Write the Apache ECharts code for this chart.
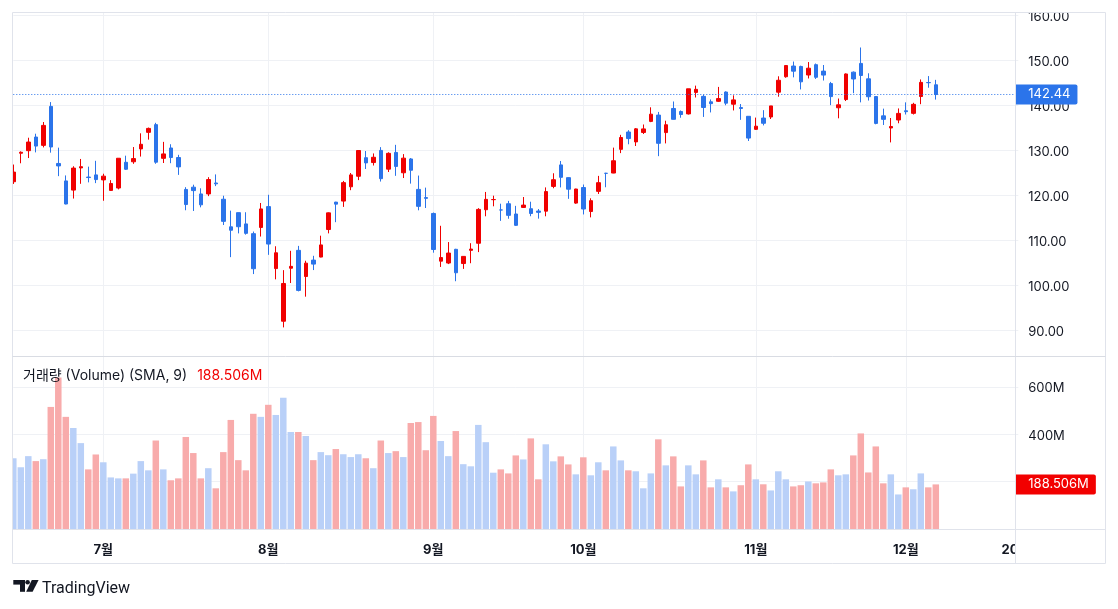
<!DOCTYPE html>
<html><head><meta charset="utf-8">
<script src="https://cdn.jsdelivr.net/npm/echarts@6/dist/echarts.min.js"></script>
<style>html,body{margin:0;padding:0;background:#fff}#c{width:1118px;height:609px}</style>
</head><body><div id="c"></div>
<script>
const dates = ['2024-06-12','2024-06-13','2024-06-14','2024-06-17','2024-06-18','2024-06-20','2024-06-21','2024-06-24','2024-06-25','2024-06-26','2024-06-27','2024-06-28',
'2024-07-01','2024-07-02','2024-07-03','2024-07-05','2024-07-08','2024-07-09','2024-07-10','2024-07-11','2024-07-12','2024-07-15','2024-07-16','2024-07-17','2024-07-18','2024-07-19','2024-07-22','2024-07-23','2024-07-24','2024-07-25','2024-07-26','2024-07-29','2024-07-30','2024-07-31',
'2024-08-01','2024-08-02','2024-08-05','2024-08-06','2024-08-07','2024-08-08','2024-08-09','2024-08-12','2024-08-13','2024-08-14','2024-08-15','2024-08-16','2024-08-19','2024-08-20','2024-08-21','2024-08-22','2024-08-23','2024-08-26','2024-08-27','2024-08-28','2024-08-29','2024-08-30',
'2024-09-03','2024-09-04','2024-09-05','2024-09-06','2024-09-09','2024-09-10','2024-09-11','2024-09-12','2024-09-13','2024-09-16','2024-09-17','2024-09-18','2024-09-19','2024-09-20','2024-09-23','2024-09-24','2024-09-25','2024-09-26','2024-09-27','2024-09-30',
'2024-10-01','2024-10-02','2024-10-03','2024-10-04','2024-10-07','2024-10-08','2024-10-09','2024-10-10','2024-10-11','2024-10-14','2024-10-15','2024-10-16','2024-10-17','2024-10-18','2024-10-21','2024-10-22','2024-10-23','2024-10-24','2024-10-25','2024-10-28','2024-10-29','2024-10-30','2024-10-31',
'2024-11-01','2024-11-04','2024-11-05','2024-11-06','2024-11-07','2024-11-08','2024-11-11','2024-11-12','2024-11-13','2024-11-14','2024-11-15','2024-11-18','2024-11-19','2024-11-20','2024-11-21','2024-11-22','2024-11-25','2024-11-26','2024-11-27','2024-11-29',
'2024-12-02','2024-12-03','2024-12-04','2024-12-05','2024-12-06'];
const futureDates = ['2024-12-09','2024-12-10','2024-12-11','2024-12-12','2024-12-13','2024-12-16','2024-12-17','2024-12-18','2024-12-19','2024-12-20','2025-01-02'];

const open = [123.06,129.39,129.96,132.99,131.14,139.80,127.12,123.24,121.20,126.13,124.10,124.58,
123.47,121.13,121.66,127.38,127.49,130.35,134.03,135.75,128.26,130.56,128.44,121.35,121.85,120.35,120.35,122.78,119.17,113.04,116.19,113.69,111.52,112.90,
117.53,103.76,92.06,103.84,107.81,102.00,105.64,106.32,112.44,118.53,118.76,121.94,124.28,128.40,127.32,130.02,125.86,129.57,125.05,128.12,121.36,119.53,
116.01,105.41,104.99,108.04,104.88,107.81,109.39,116.84,119.08,116.79,118.17,115.89,117.35,117.06,116.55,116.52,122.02,126.80,123.97,118.31,
121.77,116.44,120.92,124.94,124.99,130.26,134.11,131.91,134.01,136.47,137.87,133.98,139.34,138.67,138.13,142.91,142.03,140.82,140.93,143.00,140.29,139.54,137.60,
134.70,137.21,137.45,142.96,146.39,148.77,148.68,146.78,149.07,147.64,144.87,139.50,141.32,147.41,149.35,145.93,141.99,137.70,135.01,136.78,
138.83,138.26,142.00,145.11,144.60];
const high = [126.88,129.80,132.84,133.73,136.33,140.76,130.63,124.46,126.50,128.12,126.41,127.71,
124.84,123.41,128.28,128.85,130.77,133.82,135.10,136.15,131.92,131.39,129.04,121.85,122.40,121.60,124.07,124.69,119.95,116.63,116.20,116.28,111.99,118.34,
120.16,108.72,103.41,107.71,108.80,105.50,106.60,111.07,116.23,118.60,123.24,125.00,130.00,129.88,129.35,130.75,129.60,131.26,129.20,128.33,124.43,121.75,
116.21,113.27,109.65,108.15,106.55,109.40,117.19,120.79,119.96,118.18,118.80,117.70,119.66,118.62,116.99,121.80,124.94,127.67,124.03,121.50,
122.44,119.38,124.36,125.04,130.64,133.48,134.52,135.00,135.78,139.60,138.57,136.62,140.89,138.90,143.71,144.42,142.43,141.35,144.13,143.14,142.26,140.33,137.61,
137.31,138.96,139.91,146.49,148.93,149.77,148.85,149.65,149.33,149.00,145.24,141.55,147.13,147.56,152.89,147.16,142.05,139.30,137.22,139.35,
140.70,140.60,145.79,146.54,145.70];
const low = [122.57,127.16,128.32,129.58,130.69,129.52,124.30,118.04,119.32,122.60,122.92,122.75,
118.83,121.03,121.36,125.68,127.04,128.65,132.42,127.05,127.22,127.18,124.58,116.72,116.56,117.37,119.86,122.09,113.44,106.30,111.58,111.30,102.54,110.88,
106.81,101.37,90.69,100.55,98.69,97.52,103.43,106.26,111.58,114.07,117.47,121.18,123.42,125.89,126.66,123.10,125.22,124.37,123.88,122.64,116.71,117.22,
107.29,104.12,104.76,100.95,103.69,104.95,107.42,115.38,117.60,114.36,114.83,113.22,117.25,115.39,114.86,115.38,121.61,121.80,119.26,118.15,
115.79,115.14,120.34,121.83,124.95,129.42,131.38,131.00,133.66,136.30,128.74,131.58,136.87,137.28,138.00,141.78,137.46,138.46,140.80,140.05,138.90,136.81,132.11,
134.57,135.57,137.00,141.96,146.17,146.26,143.57,146.01,145.90,145.55,140.08,137.15,140.99,142.73,140.70,141.10,135.82,135.67,131.80,136.05,
138.00,138.00,140.29,143.95,141.31];
const close = [125.20,129.61,131.88,130.98,135.58,130.78,126.57,118.11,126.09,126.40,123.99,123.54,
124.30,122.67,128.28,125.83,128.20,131.38,134.91,127.40,129.24,128.44,126.36,117.99,121.09,117.93,123.54,122.59,114.25,112.28,113.06,111.59,103.73,117.02,
109.21,107.27,100.45,104.25,98.91,104.97,104.75,109.02,116.14,118.08,122.86,124.58,130.00,127.25,128.50,123.74,129.37,126.46,128.30,125.61,117.59,119.37,
108.00,106.21,107.21,102.83,106.47,108.10,116.91,119.14,119.10,116.78,115.59,113.37,117.87,116.00,116.26,120.87,123.51,124.04,121.40,121.44,
117.00,118.85,122.85,124.92,127.72,132.89,132.65,134.81,134.80,138.07,131.60,135.72,136.93,138.00,143.71,143.59,139.56,140.41,141.54,140.52,141.25,139.34,132.76,
135.40,136.05,139.91,145.61,148.88,147.63,145.26,148.29,146.27,146.76,141.98,140.15,147.01,145.89,146.67,141.95,136.02,136.92,135.34,138.25,
138.63,140.26,145.14,145.06,142.44];
// volume in millions
const volume = [299,261,308,287,295,516,640,474,427,363,252,315,
282,218,214,214,234,287,248,374,252,206,214,389,321,214,257,172,325,461,291,248,487,474,
525,482,555,410,410,393,291,325,312,338,316,304,316,299,257,374,321,329,304,448,452,333,
478,372,308,414,274,265,440,367,238,252,235,311,294,383,210,358,286,307,273,231,
303,227,282,248,349,290,248,244,172,235,379,269,307,180,269,231,290,176,210,176,159,185,273,
210,189,163,244,210,180,185,201,193,197,252,227,231,311,404,239,349,193,231,146,
176,168,235,176,188.506];

const tickDates = ['2024-07-01','2024-08-01','2024-09-03','2024-10-01','2024-11-01','2024-12-02','2025-01-02'];
const tickLabels = ['7월','8월','9월','10월','11월','12월','2025'];
const priceTicks = [90,100,110,120,130,140,150,160];
const volumeGridTicks = [200,400,600];
const volumeLabelTicks = [400,600];

const FONT = "Inter, 'Noto Sans CJK KR', sans-serif";
const UP = '#f00000', DOWN = '#2b74ea', VUP = '#b9d0f8', VDOWN = '#f8abab';
const GRID = '#eff1f5', FRAME = '#e0e3eb', TEXT = '#131722';

const cats = dates.concat(futureDates);
const labelOf = {}; tickDates.forEach((d, i) => labelOf[d] = tickLabels[i]);
const gridSet = new Set(tickDates.slice(0, 6));
const candle = dates.map((d, i) => [open[i], close[i], low[i], high[i]]);
const volData = volume.map((v, i) => ({ value: v, itemStyle: { color: close[i] >= open[i] ? VUP : VDOWN } }));
const n = dates.length;
const lastClose = close[n - 1], lastVol = volume[n - 1];
const lastColor = close[n - 1] >= open[n - 1] ? UP : DOWN;

const chart = echarts.init(document.getElementById('c'), null, { renderer: 'canvas' });
const xBase = {
  type: 'category', data: cats, boundaryGap: false,
  axisLine: { show: false }, axisTick: { show: false },
  splitLine: { show: true, interval: (i, v) => gridSet.has(v), lineStyle: { color: GRID, width: 1 } }
};
const yLabelRich = { p: { padding: [3, 0, 0, 0], color: TEXT, fontSize: 13, fontFamily: FONT } };
chart.setOption({
  animation: false,
  backgroundColor: '#fff',
  title: {
    left: 23, top: 369, padding: 0,
    text: '{a|거래량 (Volume) (SMA, 9)}{b|' + lastVol.toFixed(3) + 'M}',
    textStyle: { fontWeight: 'normal', rich: {
      a: { color: TEXT, fontSize: 14, fontWeight: 'normal', fontFamily: FONT },
      b: { color: '#f20000', fontSize: 14, fontWeight: 'normal', fontFamily: FONT, padding: [0, 0, 0, 10] }
    } }
  },
  grid: [
    { left: 13.3, top: 13, width: 1005, height: 343 },
    { left: 13.3, top: 357, width: 1005, height: 172 }
  ],
  xAxis: [
    Object.assign({}, xBase, { gridIndex: 0, axisLabel: { show: false } }),
    Object.assign({}, xBase, { gridIndex: 1, axisLabel: {
      show: true, interval: (i, v) => labelOf[v] !== undefined, formatter: v => labelOf[v] || '',
      margin: 15, color: TEXT, fontSize: 13, fontWeight: 'bold', fontFamily: FONT
    } })
  ],
  yAxis: [
    { gridIndex: 0, type: 'value', position: 'right', min: 84.333, max: 160.556,
      axisLine: { show: false }, axisTick: { show: false, customValues: priceTicks },
      axisLabel: { customValues: priceTicks, margin: 10, color: TEXT, fontSize: 13, fontFamily: FONT,
        formatter: v => '{p|' + v.toFixed(2) + '}', rich: yLabelRich },
      splitLine: { show: true, lineStyle: { color: GRID } } },
    { gridIndex: 1, type: 'value', position: 'right', min: 0, max: 727,
      axisLine: { show: false }, axisTick: { show: false, customValues: volumeGridTicks },
      axisLabel: { customValues: volumeLabelTicks, margin: 10, color: TEXT, fontSize: 13, fontFamily: FONT,
        formatter: v => '{p|' + v + 'M}', rich: yLabelRich },
      splitLine: { show: true, lineStyle: { color: GRID } } }
  ],
  series: [
    { type: 'candlestick', xAxisIndex: 0, yAxisIndex: 0, data: candle, barWidth: 4,
      itemStyle: { color: UP, color0: DOWN, borderColor: UP, borderColor0: DOWN, borderWidth: 1 },
      markLine: { silent: true, symbol: ['none', 'none'], animation: false,
        data: [{ yAxis: lastClose }],
        lineStyle: { color: lastColor, type: [1, 2], width: 1, opacity: 1 },
        label: { position: 'end', distance: -3, formatter: () => lastClose.toFixed(2), color: '#fff',
          backgroundColor: lastColor, padding: [3, 7, 3, 13], fontSize: 13, lineHeight: 14, fontFamily: FONT, borderRadius: [0, 2, 2, 0] },
        emphasis: { disabled: true } } },
    { type: 'bar', xAxisIndex: 1, yAxisIndex: 1, data: volData, barWidth: 6.5,
      markLine: { silent: true, symbol: ['none', 'none'], animation: false,
        data: [{ yAxis: lastVol }],
        lineStyle: { color: 'rgba(0,0,0,0)', width: 1, type: 'solid' },
        label: { show: true, position: 'end', distance: -3, formatter: () => lastVol.toFixed(3) + 'M', color: '#fff',
          backgroundColor: '#f20000', padding: [3, 7, 3, 13], fontSize: 13, lineHeight: 14, fontFamily: FONT, borderRadius: [0, 2, 2, 0] },
        emphasis: { disabled: true } } }
  ],
  graphic: [
    { type: 'rect', z: 100, shape: { x: 0, y: 0, width: 1118, height: 12 }, style: { fill: '#fff' }, silent: true },
    { type: 'rect', z: 100, shape: { x: 0, y: 0, width: 12.5, height: 564 }, style: { fill: '#fff' }, silent: true },
    { type: 'rect', z: 100, shape: { x: 1016, y: 530.5, width: 102, height: 33 }, style: { fill: '#fff' }, silent: true },
    { type: 'rect', z: 110, shape: { x: 12.5, y: 12.5, width: 1093, height: 551 }, style: { fill: 'none', stroke: FRAME, lineWidth: 1 }, silent: true },
    { type: 'line', z: 110, shape: { x1: 1015.5, y1: 12.5, x2: 1015.5, y2: 563.5 }, style: { stroke: FRAME, lineWidth: 1 }, silent: true },
    { type: 'line', z: 110, shape: { x1: 12.5, y1: 356.5, x2: 1105.5, y2: 356.5 }, style: { stroke: '#d9dce3', lineWidth: 1 }, silent: true },
    { type: 'line', z: 110, shape: { x1: 12.5, y1: 529.5, x2: 1105.5, y2: 529.5 }, style: { stroke: FRAME, lineWidth: 1 }, silent: true },
    { type: 'group', z: 110, silent: true, children: [
      { type: 'rect', shape: { x: 13.3, y: 580, width: 11.7, height: 4.6 }, style: { fill: TEXT } },
      { type: 'rect', shape: { x: 20, y: 580, width: 5, height: 11.8 }, style: { fill: TEXT } },
      { type: 'circle', shape: { cx: 27.6, cy: 582.3, r: 2.3 }, style: { fill: TEXT } },
      { type: 'polygon', shape: { points: [[31.8, 580], [38.6, 580], [32.6, 591.8], [26.2, 591.8]] }, style: { fill: TEXT } },
      { type: 'text', style: { x: 42, y: 588.5, text: 'TradingView', fill: TEXT, fontSize: 16, fontFamily: "Roboto, sans-serif", verticalAlign: 'middle' } }
    ] }
  ]
});
</script></body></html>
